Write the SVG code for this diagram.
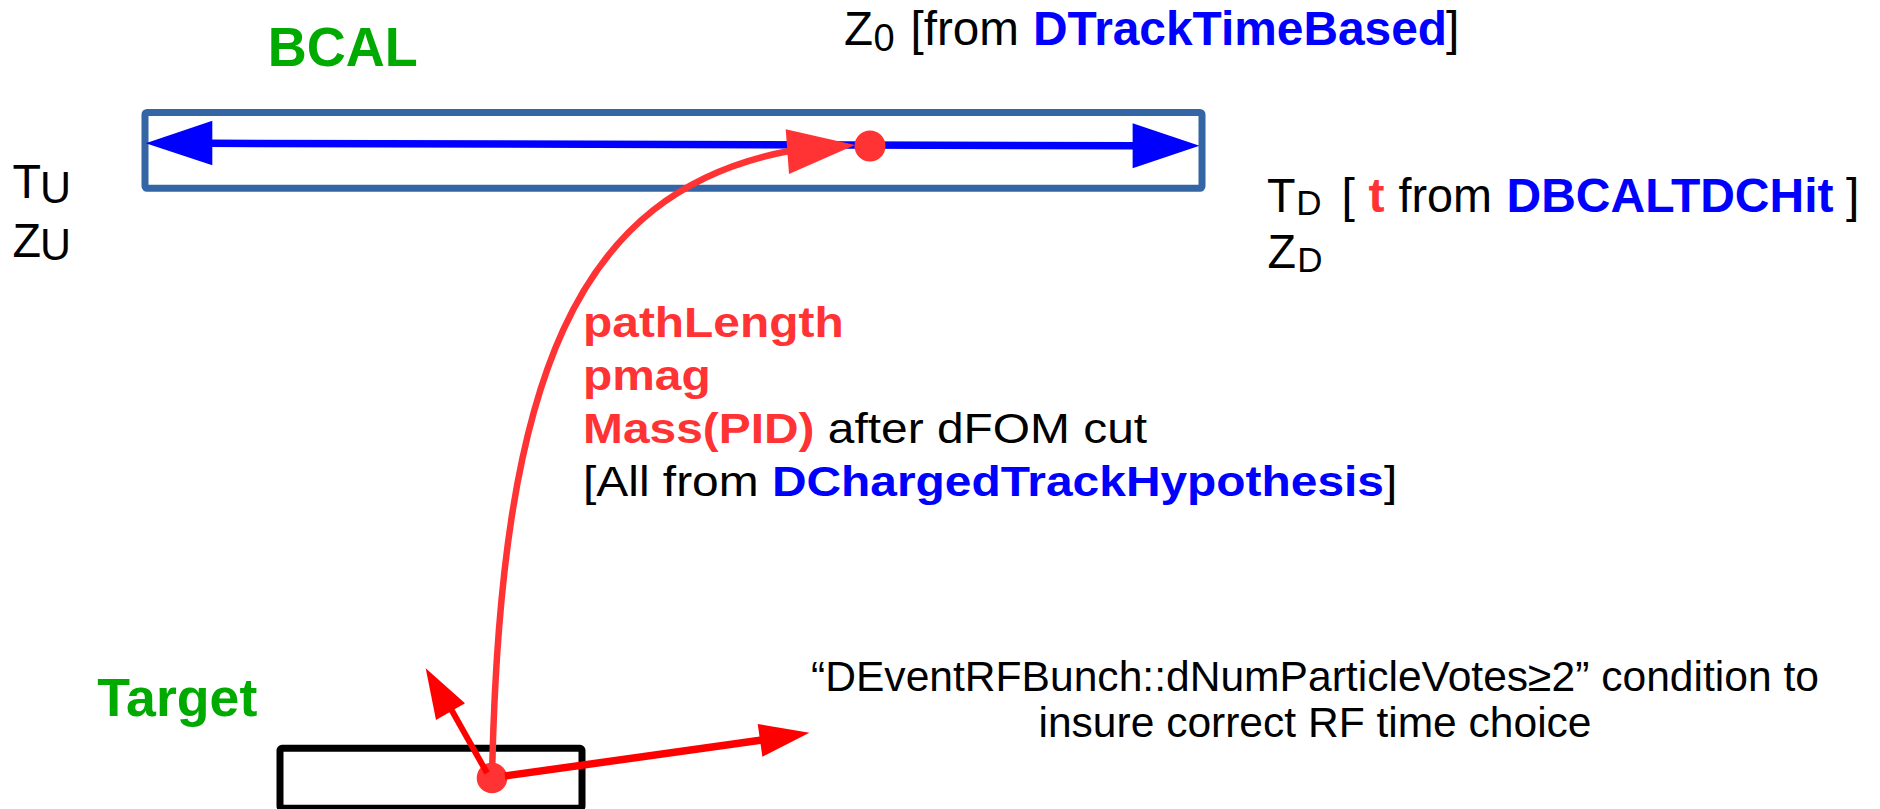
<svg xmlns="http://www.w3.org/2000/svg" width="1880" height="809" viewBox="0 0 1880 809">
<style>
text{font-family:"Liberation Sans",Arial,Helvetica,sans-serif;}
.b{font-weight:bold}
.k{fill:#000000}
.red{fill:#FF3333}
.blue{fill:#0000FF}
.green{fill:#00AA00}
.m{font-size:48px}
.sub{font-size:35px}
.mid{font-size:42.7px}
.note{font-size:43px}
</style>
<rect width="1880" height="809" fill="#ffffff"/>

<g id="bcal">
<rect x="145" y="112.5" width="1057" height="75.8" rx="2" fill="none" stroke="#3465A4" stroke-width="7"/>
<text x="267.8" y="65.7" class="b green" font-size="55" textLength="150" lengthAdjust="spacingAndGlyphs">BCAL</text>
</g>

<g id="target">
<rect x="280" y="748.3" width="302" height="60" rx="2" fill="none" stroke="#000000" stroke-width="7"/>
<text x="97.3" y="715.7" class="b green" font-size="54" textLength="160" lengthAdjust="spacingAndGlyphs">Target</text>
</g>

<g id="label-z0">
<text x="844" y="45" class="m k" textLength="29" lengthAdjust="spacingAndGlyphs">Z</text>
<text x="873.5" y="50.7" class="k" font-size="38">0</text>
<text x="910.5" y="45" class="m k" textLength="108.5" lengthAdjust="spacingAndGlyphs">[from</text>
<text x="1033" y="45" class="m b blue" textLength="414" lengthAdjust="spacingAndGlyphs">DTrackTimeBased</text>
<text x="1446" y="45" class="m k">]</text>
</g>

<g id="label-upstream">
<text x="12.5" y="198.3" class="m k" textLength="28.5" lengthAdjust="spacingAndGlyphs">T</text>
<text x="40" y="202.5" class="k" font-size="45" textLength="31" lengthAdjust="spacingAndGlyphs">U</text>
<text x="12.5" y="256.7" class="m k" textLength="28.5" lengthAdjust="spacingAndGlyphs">Z</text>
<text x="40" y="259.5" class="k" font-size="43.6" textLength="31" lengthAdjust="spacingAndGlyphs">U</text>
</g>

<g id="label-downstream">
<text x="1267" y="211.7" class="m k" textLength="28.5" lengthAdjust="spacingAndGlyphs">T</text>
<text x="1296.3" y="215" class="sub k">D</text>
<text x="1341.5" y="211.7" class="m k">[</text>
<text x="1368.5" y="211.7" class="m b red">t</text>
<text x="1398.5" y="211.7" class="m k" textLength="93.5" lengthAdjust="spacingAndGlyphs">from</text>
<text x="1506.5" y="211.7" class="m b blue" textLength="327" lengthAdjust="spacingAndGlyphs">DBCALTDCHit</text>
<text x="1846" y="211.7" class="m k">]</text>
<text x="1267.5" y="268.3" class="m k" textLength="28.5" lengthAdjust="spacingAndGlyphs">Z</text>
<text x="1297.3" y="271.7" class="sub k">D</text>
</g>

<g id="label-track" transform="translate(583,0) scale(1.122,1)">
<text x="0" y="337" class="mid b red">pathLength</text>
<text x="0" y="390" class="mid b red">pmag</text>
<text x="0" y="443" class="mid"><tspan class="b red">Mass(PID)</tspan><tspan class="k"> after dFOM cut</tspan></text>
<text x="0" y="496" class="mid"><tspan class="k">[All from </tspan><tspan class="b blue">DChargedTrackHypothesis</tspan><tspan class="k">]</tspan></text>
</g>

<g id="label-rf">
<text x="1315" y="690.7" class="note k" text-anchor="middle" textLength="1008" lengthAdjust="spacingAndGlyphs">“DEventRFBunch::dNumParticleVotes≥2” condition to</text>
<text x="1315" y="736.7" class="note k" text-anchor="middle" textLength="553" lengthAdjust="spacingAndGlyphs">insure correct RF time choice</text>
</g>

<g id="connectors">
<line x1="210" y1="143.3" x2="1135" y2="145.8" stroke="#0000FF" stroke-width="7.5"/>
<polygon points="145.7,143.3 212.3,120.7 212.3,165.3" fill="#0000FF"/>
<polygon points="1199.5,145.8 1132.6,123.3 1132.6,168.3" fill="#0000FF"/>
<path d="M492,778 C500,378 575,192 789,151" fill="none" stroke="#FF3333" stroke-width="6.5"/>
<polygon points="855,145 785.7,129.3 789,174" fill="#FF3333"/>
<circle cx="870" cy="146" r="15.5" fill="#FF3333"/>
<circle cx="492" cy="778" r="15.3" fill="#FF3333"/>
<line x1="487" y1="773" x2="451" y2="709" stroke="#FF0000" stroke-width="6"/>
<polygon points="425.7,668.3 436,720 465,703.3" fill="#FF0000"/>
<line x1="505" y1="776" x2="762" y2="740" stroke="#FF0000" stroke-width="7.5"/>
<polygon points="809.4,732.7 757.7,724 762.4,756.7" fill="#FF0000"/>
</g>
</svg>
